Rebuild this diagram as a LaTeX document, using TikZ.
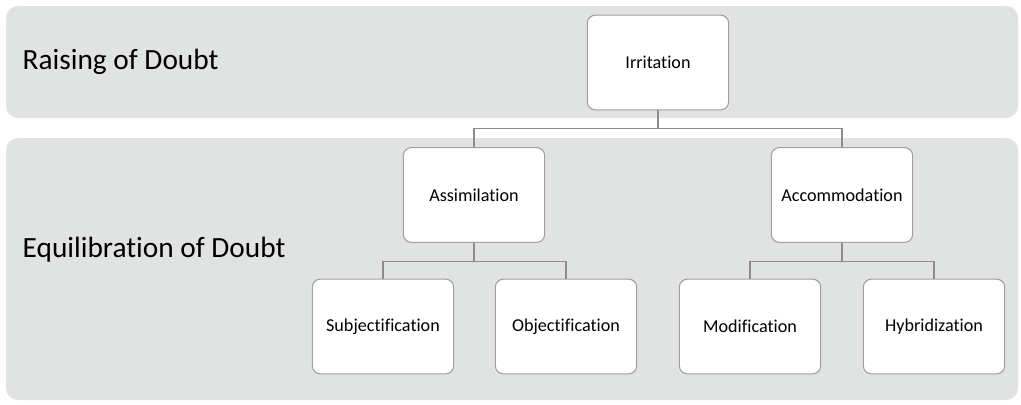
\documentclass[tikz,border=0pt]{standalone}
\usepackage{fontspec}
\setmainfont[RawFeature=-liga]{Carlito}
\usepackage{tikz}
\usetikzlibrary{positioning}

\definecolor{bandgray}{RGB}{225,226,226}
\definecolor{boxline}{RGB}{160,160,160}
\definecolor{linkgray}{RGB}{140,140,140}

\tikzset{
  band/.style={fill=bandgray, rounded corners=9pt},
  bandlabel/.style={anchor=west, font=\fontsize{22}{26}\selectfont},
  stage/.style={draw=boxline, fill=white, rounded corners=6pt, line width=0.8pt,
    minimum width=106pt, minimum height=71pt, font=\fontsize{13.6}{16}\selectfont},
  link/.style={draw=linkgray, line width=0.8pt}
}

\begin{document}
\begin{tikzpicture}[x=0.75pt,y=-0.75pt]
            \useasboundingbox (0,0) rectangle (1021,404);

            % background bands
            \fill[band] (6,6) rectangle (1018,118);
            \fill[band] (6,138) rectangle (1018,400);
            \node[bandlabel] (raise) at (18,62) {Raising of Doubt};
            \node[bandlabel] (equil) at (18,250) {Equilibration of Doubt};

            \node[stage] (irr) at (658,62.5) {Irritation};
            \node[stage] (assim) at (474,195) {Assimilation};
            \node[stage] (accom) at (842,195) {Accommodation};
            \node[stage] (subj) at (383,326.5) {Subjectification};
            \node[stage] (obj) at (566,326.5) {Objectification};
            \node[stage] (modif) at (750,326.5) {Modification};
            \node[stage] (hybr) at (934,326.5) {Hybridization};

            \draw[link] (irr.south) -- ++(0,18) -| (assim.north);
            \draw[link] (irr.south) -- ++(0,18) -| (accom.north);
            \draw[link] (assim.south) -- ++(0,19) -| (subj.north);
            \draw[link] (assim.south) -- ++(0,19) -| (obj.north);
            \draw[link] (accom.south) -- ++(0,19) -| (modif.north);
            \draw[link] (accom.south) -- ++(0,19) -| (hybr.north);
        \end{tikzpicture}
\end{document}
